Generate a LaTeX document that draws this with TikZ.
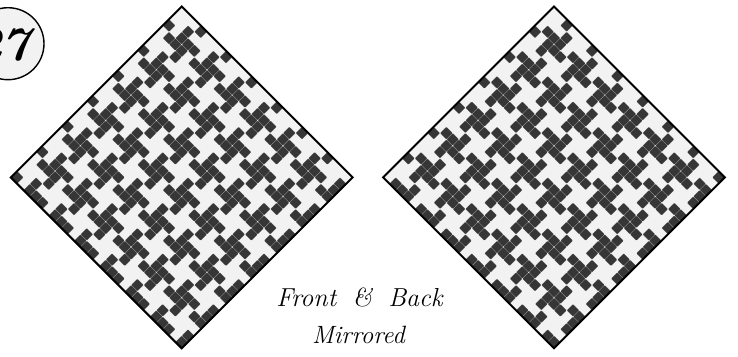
\documentclass[tikz,border=0pt]{standalone}
\definecolor{lightcell}{HTML}{F2F2F2}
\definecolor{darkcell}{HTML}{363636}
\definecolor{seamcell}{HTML}{7C7C7C}
\tikzset{
  panel/.style={x={(6.33pt,-6.33pt)},y={(-6.33pt,-6.33pt)}},
  border/.style={draw=black,line width=2pt,line join=miter},
  sheet/.style={fill=lightcell},
  seam/.style={fill=seamcell,rounded corners=0.8pt},
  dark/.style={fill=darkcell,rounded corners=0.5pt},
  badge/.style={circle,draw=black,line width=1.4pt,fill=lightcell,minimum size=72pt,inner sep=0pt},
  caption/.style={font=\fontsize{26}{36}\selectfont\itshape,align=center,inner sep=0pt}
}
% dark cells of the 4x4 pinwheel, as row,column remainders
\newcommand{\isdarkcell}[2]{%
  \pgfmathtruncatemacro{\cellkey}{4*mod(#1,4)+mod(#2,4)}%
  \ifnum\cellkey=3 \def\celldark{1}\else
  \ifnum\cellkey=6 \def\celldark{1}\else
  \ifnum\cellkey=8 \def\celldark{1}\else
  \ifnum\cellkey=10 \def\celldark{1}\else
  \ifnum\cellkey=11 \def\celldark{1}\else
  \ifnum\cellkey=13 \def\celldark{1}\else
  \ifnum\cellkey=14 \def\celldark{1}\else
  \ifnum\cellkey=15 \def\celldark{1}\else
  \def\celldark{0}\fi\fi\fi\fi\fi\fi\fi\fi}
\newcommand{\cellsquare}[2]{(#1+0.04,#2+0.04) -- ++(0.92,0) -- ++(0,0.92) -- ++(-0.92,0) -- cycle}
\newcommand{\seamsquare}[2]{(#1,#2) -- ++(1,0) -- ++(0,1) -- ++(-1,0) -- cycle}
\begin{document}
\begin{tikzpicture}[x=1pt,y=-1pt]
\useasboundingbox (0,0) rectangle (738,356);
\clip (0,0) rectangle (738,356);
% left panel
\begin{scope}[xshift=181.7pt,yshift=-6.5pt,panel]
  \path[sheet] (0,0) -- (27,0) -- (27,27) -- (0,27) -- cycle;
  \foreach \r in {0,...,26}{\foreach \c in {0,...,26}{
    \isdarkcell{\r}{\c}
    \ifnum\celldark=1 \path[seam] \seamsquare{\c}{\r}; \path[dark] \cellsquare{\c}{\r};\fi
  }}
  \draw[border] (0,0) -- (27,0) -- (27,27) -- (0,27) -- cycle;
\end{scope}
% right panel: the same cloth mirrored
\begin{scope}[xshift=554pt,yshift=-6.5pt,panel]
  \path[sheet] (0,0) -- (27,0) -- (27,27) -- (0,27) -- cycle;
  \foreach \r in {0,...,26}{\foreach \c in {0,...,26}{
    \isdarkcell{\r}{\c}
    \ifnum\celldark=1 \path[seam] \seamsquare{\r}{\c}; \path[dark] \cellsquare{\r}{\c};\fi
  }}
  \draw[border] (0,0) -- (27,0) -- (27,27) -- (0,27) -- cycle;
\end{scope}
\node[badge] (badge) at (8,43.7) {};
\node[font=\fontsize{48}{48}\selectfont\bfseries\itshape,inner sep=0pt,anchor=base east] (num) at (30,60) {27};
\node[caption,anchor=base] (front) at (359.5,306.5) {Front \;\&\; Back};
\node[caption,anchor=base,font=\fontsize{25}{36}\selectfont\itshape] (mirr) at (358.5,343) {Mirrored};
\end{tikzpicture}
\end{document}
